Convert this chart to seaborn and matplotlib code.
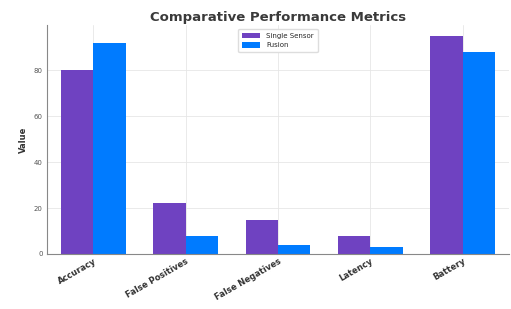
import matplotlib
matplotlib.use("Agg")
import matplotlib.pyplot as plt
import pandas as pd
import seaborn as sns

categories = ["Accuracy", "False Positives", "False Negatives", "Latency", "Battery"]
single_sensor = [80, 22, 15, 8, 95]
fusion = [92, 8, 4, 3, 88]
series_names = ["Single Sensor", "Fusion"]
colors = ["#6f42c1", "#007bff"]

df = pd.DataFrame({
    "Metric": categories * 2,
    "Value": single_sensor + fusion,
    "Series": [series_names[0]] * len(categories) + [series_names[1]] * len(categories),
})

sns.set_style("whitegrid")
fig, ax = plt.subplots(figsize=(5.11, 3.09), dpi=100)
fig.subplots_adjust(left=0.092, right=0.996, bottom=0.178, top=0.919)

sns.barplot(data=df, x="Metric", y="Value", hue="Series", order=categories,
            hue_order=series_names, palette=colors, width=0.7, saturation=1,
            errorbar=None, linewidth=0, gap=0, ax=ax)

ax.set_title("Comparative Performance Metrics", fontsize=9.5, fontweight="bold",
             color="#3a3a3a", pad=3)
ax.set_xlabel("")
ax.set_ylabel("Value", fontsize=6, fontweight="bold", color="#333333")
ax.set_yticks([0, 20, 40, 60, 80])
ax.tick_params(axis="y", labelsize=5, colors="#555555", length=2, pad=1)
ax.tick_params(axis="x", labelsize=6, length=0, pad=2)
plt.setp(ax.get_xticklabels(), rotation=30, ha="right", rotation_mode="anchor",
         fontweight="bold", color="#333333")
ax.grid(True, color="#e6e6e6", linewidth=0.6)
for side in ["top", "right"]:
    ax.spines[side].set_visible(False)
for side in ["left", "bottom"]:
    ax.spines[side].set_color("#888888")
    ax.spines[side].set_linewidth(0.8)

ax.legend(loc="upper center", fontsize=5, frameon=True, framealpha=1,
          edgecolor="#dddddd", handlelength=2.6, handleheight=0.8,
          borderpad=0.6, labelspacing=0.5)

fig.savefig("out.png", dpi=100)
